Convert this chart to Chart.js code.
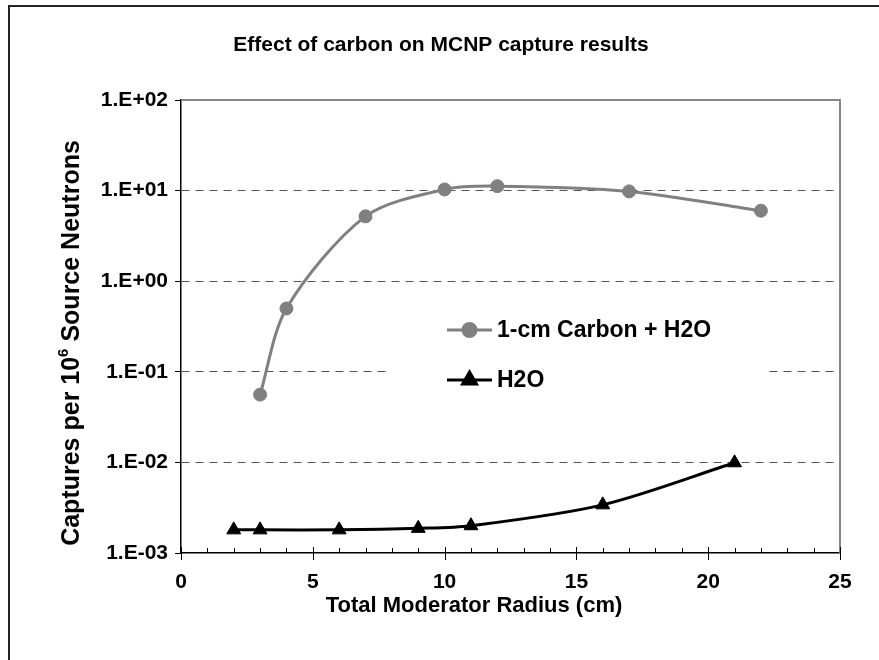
<!DOCTYPE html>
<html>
<head>
<meta charset="utf-8">
<title>Effect of carbon on MCNP capture results</title>
<script src="https://cdn.jsdelivr.net/npm/chart.js@4.4.1/dist/chart.umd.min.js"></script>
<style>
  html, body { margin: 0; padding: 0; background: #fff; }
  canvas { display: block; }
</style>
</head>
<body>
<canvas id="captureChart" width="879" height="660"></canvas>
<script>
// Moderator radius (cm) and captures per 10^6 source neutrons
const carbonRadius = [3, 4, 7, 10, 12, 17, 22];
const carbonCaptures = [0.056, 0.50, 5.2, 10.3, 11.2, 9.8, 6.0];
const waterRadius = [2, 3, 6, 9, 11, 16, 21];
const waterCaptures = [0.0018, 0.0018, 0.0018, 0.00187, 0.0020, 0.0034, 0.0099];

const decadeTicks = [1e-3, 1e-2, 1e-1, 1e0, 1e1, 1e2];
const xMajorTicks = [0, 5, 10, 15, 20, 25];

const chartTitle = 'Effect of carbon on MCNP capture results';
const xTitle = 'Total Moderator Radius (cm)';

const FONT = "'Liberation Sans', Arial, sans-serif";

function toPoints(xs, ys) {
    return xs.map((x, i) => ({ x: x, y: ys[i] }));
}

function expLabel(v) {
    const e = Math.round(Math.log10(v));
    const s = e < 0 ? '-' : '+';
    return '1.E' + s + String(Math.abs(e)).padStart(2, '0');
}

// frame, titles, x ticks and the in-plot legend
const decorations = {
    id: 'decorations',
    beforeDraw(chart) {
        const ctx = chart.ctx;
        ctx.save();
        ctx.fillStyle = '#fff';
        ctx.fillRect(0, 0, chart.width, chart.height);
        ctx.strokeStyle = '#222';
        ctx.lineWidth = 2;
        ctx.beginPath();
        ctx.moveTo(9, chart.height);
        ctx.lineTo(9, 6);
        ctx.lineTo(chart.width, 6);
        ctx.stroke();
        ctx.restore();
    },
    beforeDatasetsDraw(chart) {
        const ctx = chart.ctx;
        const a = chart.chartArea;
        const xs = chart.scales.x;
        ctx.save();
        // gray top/right edges of the plot area
        ctx.strokeStyle = '#858585';
        ctx.lineWidth = 2;
        ctx.beginPath();
        ctx.moveTo(a.left, a.top);
        ctx.lineTo(a.right, a.top);
        ctx.lineTo(a.right, a.bottom);
        ctx.stroke();

        // x tick marks: minor inside, major crossing the axis
        ctx.strokeStyle = '#000';
        ctx.lineWidth = 1;
        for (let v = xs.min; v <= xs.max; v++) {
            const px = Math.round(xs.getPixelForValue(v)) + 0.5;
            const major = xMajorTicks.includes(v);
            ctx.beginPath();
            ctx.moveTo(px, a.bottom - (major ? 6 : 5));
            ctx.lineTo(px, a.bottom + (major ? 7 : 0));
            ctx.stroke();
        }

        // legend box hides the grid behind it
        ctx.fillStyle = '#fff';
        ctx.fillRect(391, 300, 375, 100);
        ctx.restore();
    },
    afterDatasetsDraw(chart) {
        const ctx = chart.ctx;
        ctx.save();
        ctx.fillStyle = '#000';
        ctx.textAlign = 'center';
        ctx.textBaseline = 'middle';
        ctx.font = 'bold 21px ' + FONT;
        ctx.fillText(chartTitle, 441, 45);
        ctx.font = 'bold 22px ' + FONT;
        ctx.fillText(xTitle, 474, 606);
        ctx.restore();

        // y axis title with superscript exponent
        ctx.save();
        ctx.translate(72, 343);
        ctx.rotate(-Math.PI / 2);
        ctx.fillStyle = '#000';
        ctx.textBaseline = 'middle';
        const big = 'bold 25px ' + FONT;
        const small = 'bold 15px ' + FONT;
        const parts = [['Captures per 10', big, 0], ['6', small, -8], [' Source Neutrons', big, 0]];
        let total = 0;
        parts.forEach(p => { ctx.font = p[1]; total += ctx.measureText(p[0]).width; });
        let cx = -total / 2;
        parts.forEach(p => {
            ctx.font = p[1];
            ctx.fillText(p[0], cx, p[2]);
            cx += ctx.measureText(p[0]).width;
        });
        ctx.restore();

        // legend entries
        ctx.save();
        chart.data.datasets.forEach((ds, i) => {
            const y = 330 + i * 50;
            ctx.strokeStyle = ds.borderColor;
            ctx.lineWidth = ds.borderWidth;
            ctx.beginPath();
            ctx.moveTo(447, y);
            ctx.lineTo(492, y);
            ctx.stroke();
            ctx.fillStyle = ds.pointBackgroundColor;
            ctx.strokeStyle = ds.pointBorderColor;
            Chart.helpers.drawPoint(ctx, {
                pointStyle: ds.pointStyle,
                radius: ds.pointRadius,
                rotation: 0,
                borderWidth: 1
            }, 469.5, y);
            ctx.fillStyle = '#000';
            ctx.font = 'bold 23px ' + FONT;
            ctx.textBaseline = 'middle';
            ctx.fillText(ds.label, 497, y + 1);
        });
        ctx.restore();
    }
};

const ctxCapture = document.getElementById('captureChart').getContext('2d');
const captureChart = new Chart(ctxCapture, {
    type: 'line',
    data: {
        datasets: [
            {
                label: '1-cm Carbon + H2O',
                data: toPoints(carbonRadius, carbonCaptures),
                borderColor: '#808080',
                backgroundColor: '#808080',
                pointBackgroundColor: '#808080',
                pointBorderColor: '#808080',
                borderWidth: 3,
                pointStyle: 'circle',
                pointRadius: 6.5,
                pointBorderWidth: 1,
                tension: 0.3,
                fill: false
            },
            {
                label: 'H2O',
                data: toPoints(waterRadius, waterCaptures),
                borderColor: '#000',
                backgroundColor: '#000',
                pointBackgroundColor: '#000',
                pointBorderColor: '#000',
                borderWidth: 3,
                pointStyle: 'triangle',
                pointRadius: 8,
                pointBorderWidth: 1,
                tension: 0.3,
                fill: false
            }
        ]
    },
    options: {
        responsive: false,
        animation: false,
        layout: { padding: { left: 20, right: 39, top: 100, bottom: 0 } },
        scales: {
            x: {
                type: 'linear',
                min: 0,
                max: 25,
                afterBuildTicks: (scale) => { scale.ticks = xMajorTicks.map(v => ({ value: v })); },
                afterFit: (scale) => { scale.height = 107; },
                grid: { display: true, drawOnChartArea: false, drawTicks: false, color: 'rgba(0,0,0,0)' },
                border: { color: '#000', width: 1.5 },
                ticks: {
                    color: '#000',
                    padding: 17,
                    font: { family: FONT, size: 21, weight: 'bold' },
                    maxRotation: 0
                }
            },
            y: {
                type: 'logarithmic',
                min: 1e-3,
                max: 1e2,
                afterBuildTicks: (scale) => { scale.ticks = decadeTicks.map(v => ({ value: v })); },
                afterFit: (scale) => { scale.width = 161; },
                grid: {
                    color: (c) => (c.tick && (c.tick.value === 1e-3 || c.tick.value === 1e2)) ? 'rgba(0,0,0,0)' : '#555',
                    tickColor: '#000',
                    tickLength: 6,
                    lineWidth: 1
                },
                border: { color: '#000', width: 1.5, dash: [8, 6] },
                ticks: {
                    color: '#000',
                    padding: 7,
                    font: { family: FONT, size: 21, weight: 'bold' },
                    callback: (v) => expLabel(v)
                }
            }
        },
        plugins: {
            legend: { display: false },
            tooltip: { enabled: false },
            title: { display: false }
        }
    },
    plugins: [decorations]
});
</script>
</body>
</html>
